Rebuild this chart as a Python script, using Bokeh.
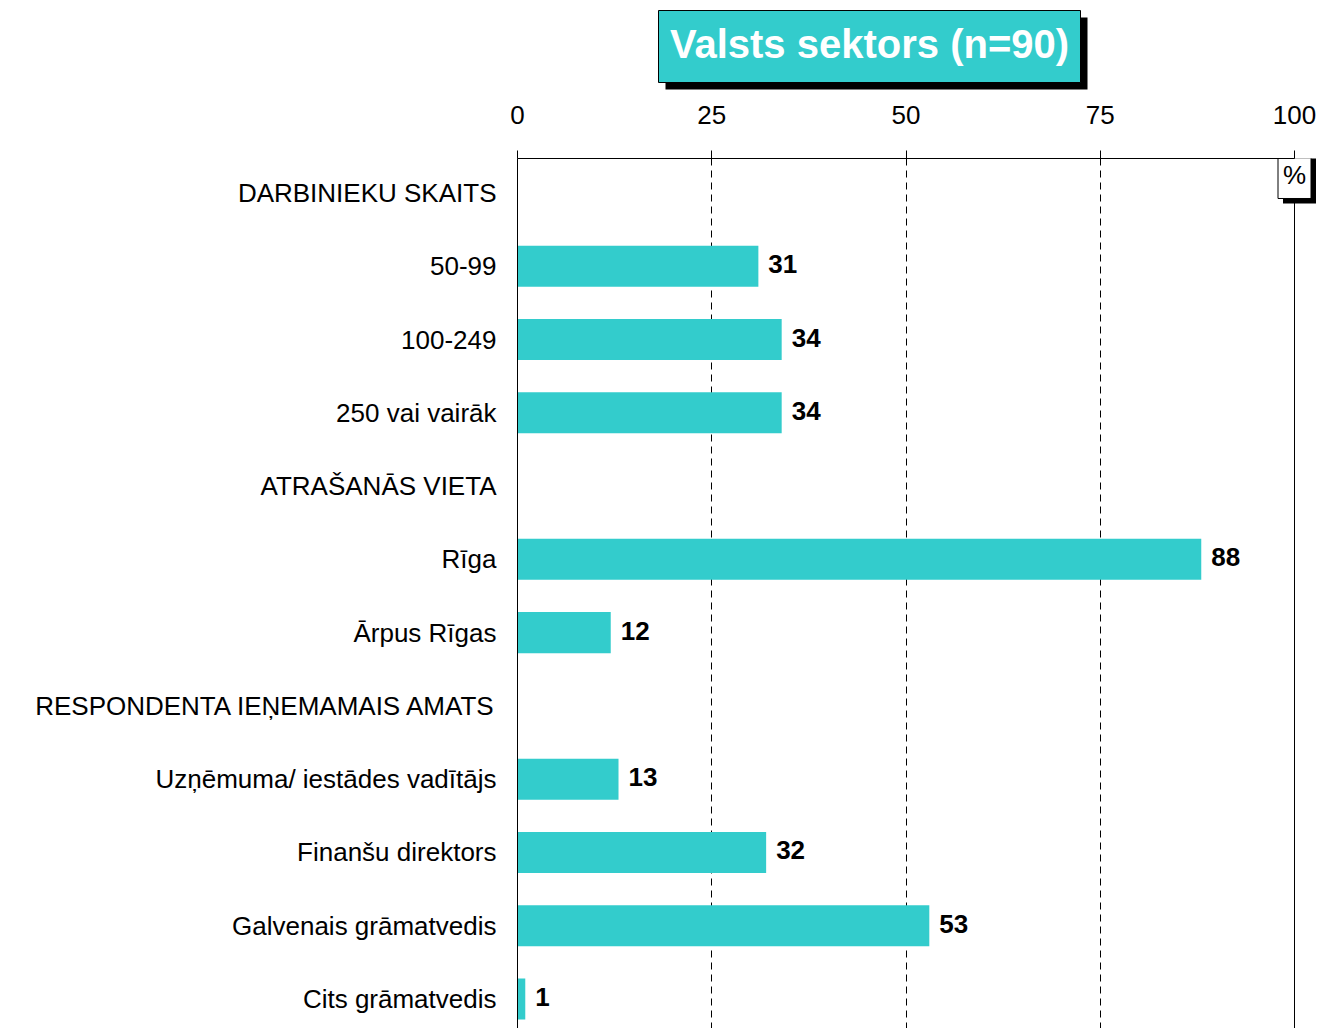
from bokeh.plotting import figure
from bokeh.layouts import column
from bokeh.models import Range1d, FixedTicker, Span, ColumnDataSource
from bokeh.core.properties import value
from bokeh.embed import file_html
from bokeh.resources import INLINE

categories = ["DARBINIEKU SKAITS", "50-99", "100-249", "250 vai vairāk",
              "ATRAŠANĀS VIETA", "Rīga", "Ārpus Rīgas",
              "RESPONDENTA IEŅEMAMAIS AMATS", "Uzņēmuma/ iestādes vadītājs",
              "Finanšu direktors", "Galvenais grāmatvedis", "Cits grāmatvedis"]
values = [None, 31, 34, 34, None, 88, 12, None, 13, 32, 53, 1]
x_ticks = [0, 25, 50, 75, 100]
title_text = "Valsts sektors (n=90)"
unit_text = "%"

FONT = value("Liberation Sans")
BAR = "#33CCCC"

W = 1316
H_TOP = 92
H_MAIN = 936
LEFT = 517

# ---------------- title strip (data units = page pixels) ----------------
t = figure(width=W, height=H_TOP, output_backend="svg", toolbar_location=None,
           x_range=Range1d(LEFT, W), y_range=Range1d(H_TOP, 0),
           min_border_left=LEFT, min_border_right=0, min_border_top=0, min_border_bottom=0)
t.axis.visible = False
t.grid.visible = False
t.outline_line_color = None
t.rect(x=[876], y=[53], width=[422], height=[72], color="black", line_color=None)
t.rect(x=[869], y=[46], width=[422], height=[72], fill_color=BAR,
       line_color="black", line_width=1)
t.text(x=[869], y=[43], text=[title_text], text_font=FONT, text_font_style="bold",
       text_font_size="40px", text_color="white", text_align="center",
       text_baseline="middle")

# ---------------- main chart ----------------
rows = [i for i, v in enumerate(values) if v is not None]
vals = [values[i] for i in rows]
src = ColumnDataSource(dict(y=rows, v=vals, lbl=[str(v) for v in vals]))

px_per_unit = 7.77
x_end = (W - LEFT) / px_per_unit
p = figure(width=W, height=H_MAIN, output_backend="svg", toolbar_location=None,
           x_range=Range1d(0, x_end), y_range=Range1d(11.403, -0.471),
           x_axis_location="above", min_border_left=LEFT, min_border_top=66,
           min_border_right=0, min_border_bottom=0)
p.outline_line_color = None
p.background_fill_color = "white"

p.add_layout(Span(location=100, dimension="height", line_color="black",
                  line_width=1, level="underlay"))

p.hbar(y="y", right="v", left=0, height=0.56, source=src, color=BAR, line_color=None)
p.text(x="v", y="y", text="lbl", source=src, x_offset=10, y_offset=-2,
       text_baseline="middle", text_align="left", text_font=FONT,
       text_font_style="bold", text_font_size="26px", text_color="black")

# "%" box with shadow at the top-right corner
p.rect(x=[100 + 5 / px_per_unit], y=[-0.239 + 5 / 73.27], width=[33], height=[46],
       width_units="screen", height_units="screen", color="black", line_color=None)
p.rect(x=[100], y=[-0.239], width=[33], height=[46], width_units="screen",
       height_units="screen", fill_color="white", line_color="black", line_width=1)
p.text(x=[100], y=[-0.239], text=[unit_text], text_font=FONT, text_font_size="26px",
       text_color="black", text_align="center", text_baseline="middle")

xa = p.xaxis[0]
xa.ticker = FixedTicker(ticks=x_ticks)
xa.bounds = (0, 100)
xa.minor_tick_line_color = None
xa.major_tick_out = 8
xa.major_tick_in = 0
xa.major_label_standoff = 27
xa.major_label_text_font = "Liberation Sans"
xa.major_label_text_font_size = "26px"
xa.major_label_text_color = "black"
xa.axis_line_color = "black"
xa.major_tick_line_color = "black"

ya = p.yaxis[0]
ya.ticker = FixedTicker(ticks=list(range(len(categories))))
ya.major_label_overrides = {i: c for i, c in enumerate(categories)}
ya.major_tick_line_color = None
ya.major_tick_out = 0
ya.major_tick_in = 0
ya.minor_tick_line_color = None
ya.major_label_standoff = 21
ya.major_label_text_font = "Liberation Sans"
ya.major_label_text_font_size = "26px"
ya.major_label_text_color = "black"
ya.axis_line_color = "black"

p.xgrid.ticker = FixedTicker(ticks=[25, 50, 75])
p.xgrid.grid_line_color = "black"
p.xgrid.grid_line_dash = "7 5"
p.ygrid.grid_line_color = None

layout = column(t, p, spacing=0)
open("out.html", "w").write(file_html(layout, INLINE))
